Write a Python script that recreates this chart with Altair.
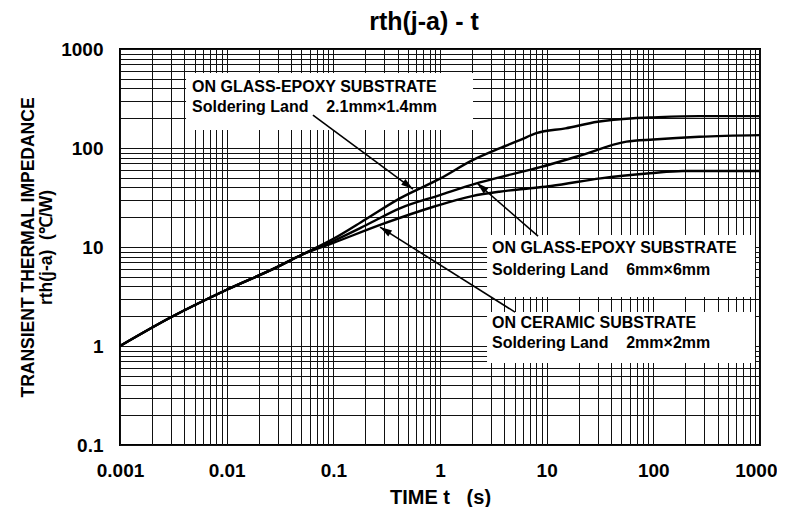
import math
import altair as alt
import pandas as pd

# ---------------- data ----------------
t_common = [0.001, 0.003, 0.01, 0.03, 0.05]
r_common = [1.0, 1.95, 3.7, 6.3, 8.3]

# ON GLASS-EPOXY SUBSTRATE, Soldering Land 2.1mm x 1.4mm
t_ge21 = [0.1, 0.2, 0.42, 1, 2, 3.6, 5.6, 8, 15, 30, 65, 100, 270, 1000]
r_ge21 = [12.1, 19.0, 31, 49, 75, 99, 120, 141, 158, 184, 200, 204, 210, 210]

# ON GLASS-EPOXY SUBSTRATE, Soldering Land 6mm x 6mm
t_ge6 = [0.1, 0.2, 0.42, 1, 2.2, 3.6, 8.7, 20, 56, 100, 270, 1000]
r_ge6 = [11.5, 16.5, 24.6, 33.5, 44, 50.6, 64, 83, 116, 122, 130, 135]

# ON CERAMIC SUBSTRATE, Soldering Land 2mm x 2mm
t_cer = [0.1, 0.3, 0.87, 2, 3.6, 7, 11, 32, 93, 190, 1000]
r_cer = [11.0, 17.3, 25.5, 32.7, 36.2, 39.2, 41.3, 49.4, 55.5, 58.6, 58.6]

series_names = ["ge21", "ge6", "cer"]

# annotation boxes (data units)
box_x1 = [0.00416, 2.76, 2.76]
box_x2 = [2.04, 898, 898]
box_y1 = [572, 13.2, 2.20]
box_y2 = [152, 3.13, 0.673]

# annotation text lines
NB = "\u00a0"
text_lines = [
    "ON GLASS-EPOXY SUBSTRATE",
    "Soldering Land" + NB * 4 + "2.1mm\u00d71.4mm",
    "ON GLASS-EPOXY SUBSTRATE",
    "Soldering Land" + NB * 4 + "6mm\u00d76mm",
    "ON CERAMIC SUBSTRATE",
    "Soldering Land" + NB * 4 + "2mm\u00d72mm",
]
text_t = [0.00473, 0.00473, 3.07, 3.07, 3.07, 3.07]
text_r = [413, 259, 9.77, 5.86, 1.71, 1.07]

# arrows: tail -> head (data units)
arrow_tail_t = [0.0644, 8.3, 5.05]
arrow_tail_r = [215, 12.9, 2.2]
arrow_head_t = [0.558, 2.22, 0.274]
arrow_head_r = [38.5, 44.3, 15.9]

x_decades = [0.001, 0.01, 0.1, 1, 10, 100, 1000]
y_decades = [0.1, 1, 10, 100, 1000]

chart_title = ["rth(j-a) - t"]
x_title = "TIME t" + NB * 3 + "(s)"
y_title = ["TRANSIENT THERMAL IMPEDANCE", "rth(j-a)" + NB * 2 + "(\u2103/W)"]

# ---------------- layout ----------------
W, H = 640, 396
X_DOM = [0.001, 1000]
Y_DOM = [0.1, 1000]


def to_px(t):
    return (math.log10(t) - math.log10(X_DOM[0])) / (math.log10(X_DOM[1]) - math.log10(X_DOM[0])) * W


def to_py(r):
    return H - (math.log10(r) - math.log10(Y_DOM[0])) / (math.log10(Y_DOM[1]) - math.log10(Y_DOM[0])) * H


x_grid = [m * d for d in x_decades[:-1] for m in range(1, 10)] + [x_decades[-1]]
y_grid = [m * d for d in y_decades[:-1] for m in range(1, 10)] + [y_decades[-1]]

rows = []
for name, ts, rs in zip(series_names, [t_ge21, t_ge6, t_cer], [r_ge21, r_ge6, r_cer]):
    for i, (t, r) in enumerate(zip(t_common + ts, r_common + rs)):
        rows.append({"series": name, "t": t, "r": r, "order": i})
curves = pd.DataFrame(rows)

boxes = pd.DataFrame({"x1": box_x1, "x2": box_x2, "y1": box_y1, "y2": box_y2})
texts = pd.DataFrame({"t": text_t, "r": text_r, "label": text_lines})

angles = []
for a, b, c, d in zip(arrow_tail_t, arrow_tail_r, arrow_head_t, arrow_head_r):
    dx = to_px(c) - to_px(a)
    dy = to_py(d) - to_py(b)
    angles.append(math.degrees(math.atan2(dx, -dy)) % 360)
arrows = pd.DataFrame({
    "t0": arrow_tail_t, "r0": arrow_tail_r,
    "t1": arrow_head_t, "r1": arrow_head_r,
    "angle": angles,
})

FONT = "Liberation Sans"
label_expr = "abs(log(datum.value)/LN10 - round(log(datum.value)/LN10)) < 1e-6 ? format(datum.value, '~g') : ''"
last_x = "datum.value >= 999"

xscale = alt.Scale(type="log", domain=X_DOM, nice=False)
yscale = alt.Scale(type="log", domain=Y_DOM, nice=False)

x_axis = alt.Axis(
    values=x_grid, labelExpr=label_expr, grid=True, gridColor="#111", gridWidth=1,
    ticks=False, domain=False, labelFont=FONT, labelFontSize=19, labelFontWeight="bold",
    labelColor="black", labelPadding=16, labelOverlap=False, labelFlush=False,
    labelAlign=alt.condition(last_x, alt.value("right"), alt.value("center")),
    labelOffset=alt.condition(last_x, alt.value(17), alt.value(0)),
    title=x_title, titleFont=FONT, titleFontSize=20, titleFontWeight="bold",
    titleColor="black", titleY=58, titleBaseline="alphabetic",
)
y_axis = alt.Axis(
    values=y_grid, labelExpr=label_expr, grid=True, gridColor="#111", gridWidth=1,
    ticks=False, domain=False, labelFont=FONT, labelFontSize=19, labelFontWeight="bold",
    labelColor="black", labelPadding=17, labelOverlap=False, labelFlush=False,
    title=y_title,
    titleFont=FONT, titleFontSize=17.5, titleFontWeight="bold", titleColor="black",
    titleX=-92, titleY=198, titleBaseline="middle", titleLineHeight=18,
)

lines = alt.Chart(curves).mark_line(color="black", strokeWidth=2.4, interpolate="monotone").encode(
    x=alt.X("t:Q", scale=xscale, axis=x_axis),
    y=alt.Y("r:Q", scale=yscale, axis=y_axis),
    detail="series:N",
    order="order:Q",
)

rects = alt.Chart(boxes).mark_rect(color="white", opacity=1).encode(
    x=alt.X("x1:Q", scale=xscale), x2="x2:Q",
    y=alt.Y("y1:Q", scale=yscale), y2="y2:Q",
)

labels = alt.Chart(texts).mark_text(
    font=FONT, fontSize=16, fontWeight="bold", align="left", baseline="middle", color="black"
).encode(
    x=alt.X("t:Q", scale=xscale), y=alt.Y("r:Q", scale=yscale), text="label:N"
)

arrow_lines = alt.Chart(arrows).mark_rule(color="black", strokeWidth=1.6).encode(
    x=alt.X("t0:Q", scale=xscale), y=alt.Y("r0:Q", scale=yscale), x2="t1:Q", y2="r1:Q"
)

arrow_heads = alt.Chart(arrows).mark_point(
    shape="M0,0L-0.6,2L0.6,2Z", filled=True, color="black", opacity=1, size=144, strokeWidth=0
).encode(
    x=alt.X("t1:Q", scale=xscale), y=alt.Y("r1:Q", scale=yscale),
    angle=alt.Angle("angle:Q", scale=None),
)

title_mark = alt.Chart(pd.DataFrame({"title": chart_title})).mark_text(
    font=FONT, fontSize=25, fontWeight="bold", color="black", align="center", baseline="alphabetic"
).encode(
    text="title:N", x=alt.value(W / 2 - 16), y=alt.value(-19)
)

chart = alt.layer(rects, lines, arrow_lines, arrow_heads, labels, title_mark).properties(
    width=W, height=H,
    autosize=alt.AutoSizeParams(type="none"),
    padding={"left": 112, "top": 41, "right": 17, "bottom": 62},
    background="white",
).configure_view(stroke="black", strokeWidth=2)

chart.save("out.html", embed_options={"renderer": "svg", "actions": False})
